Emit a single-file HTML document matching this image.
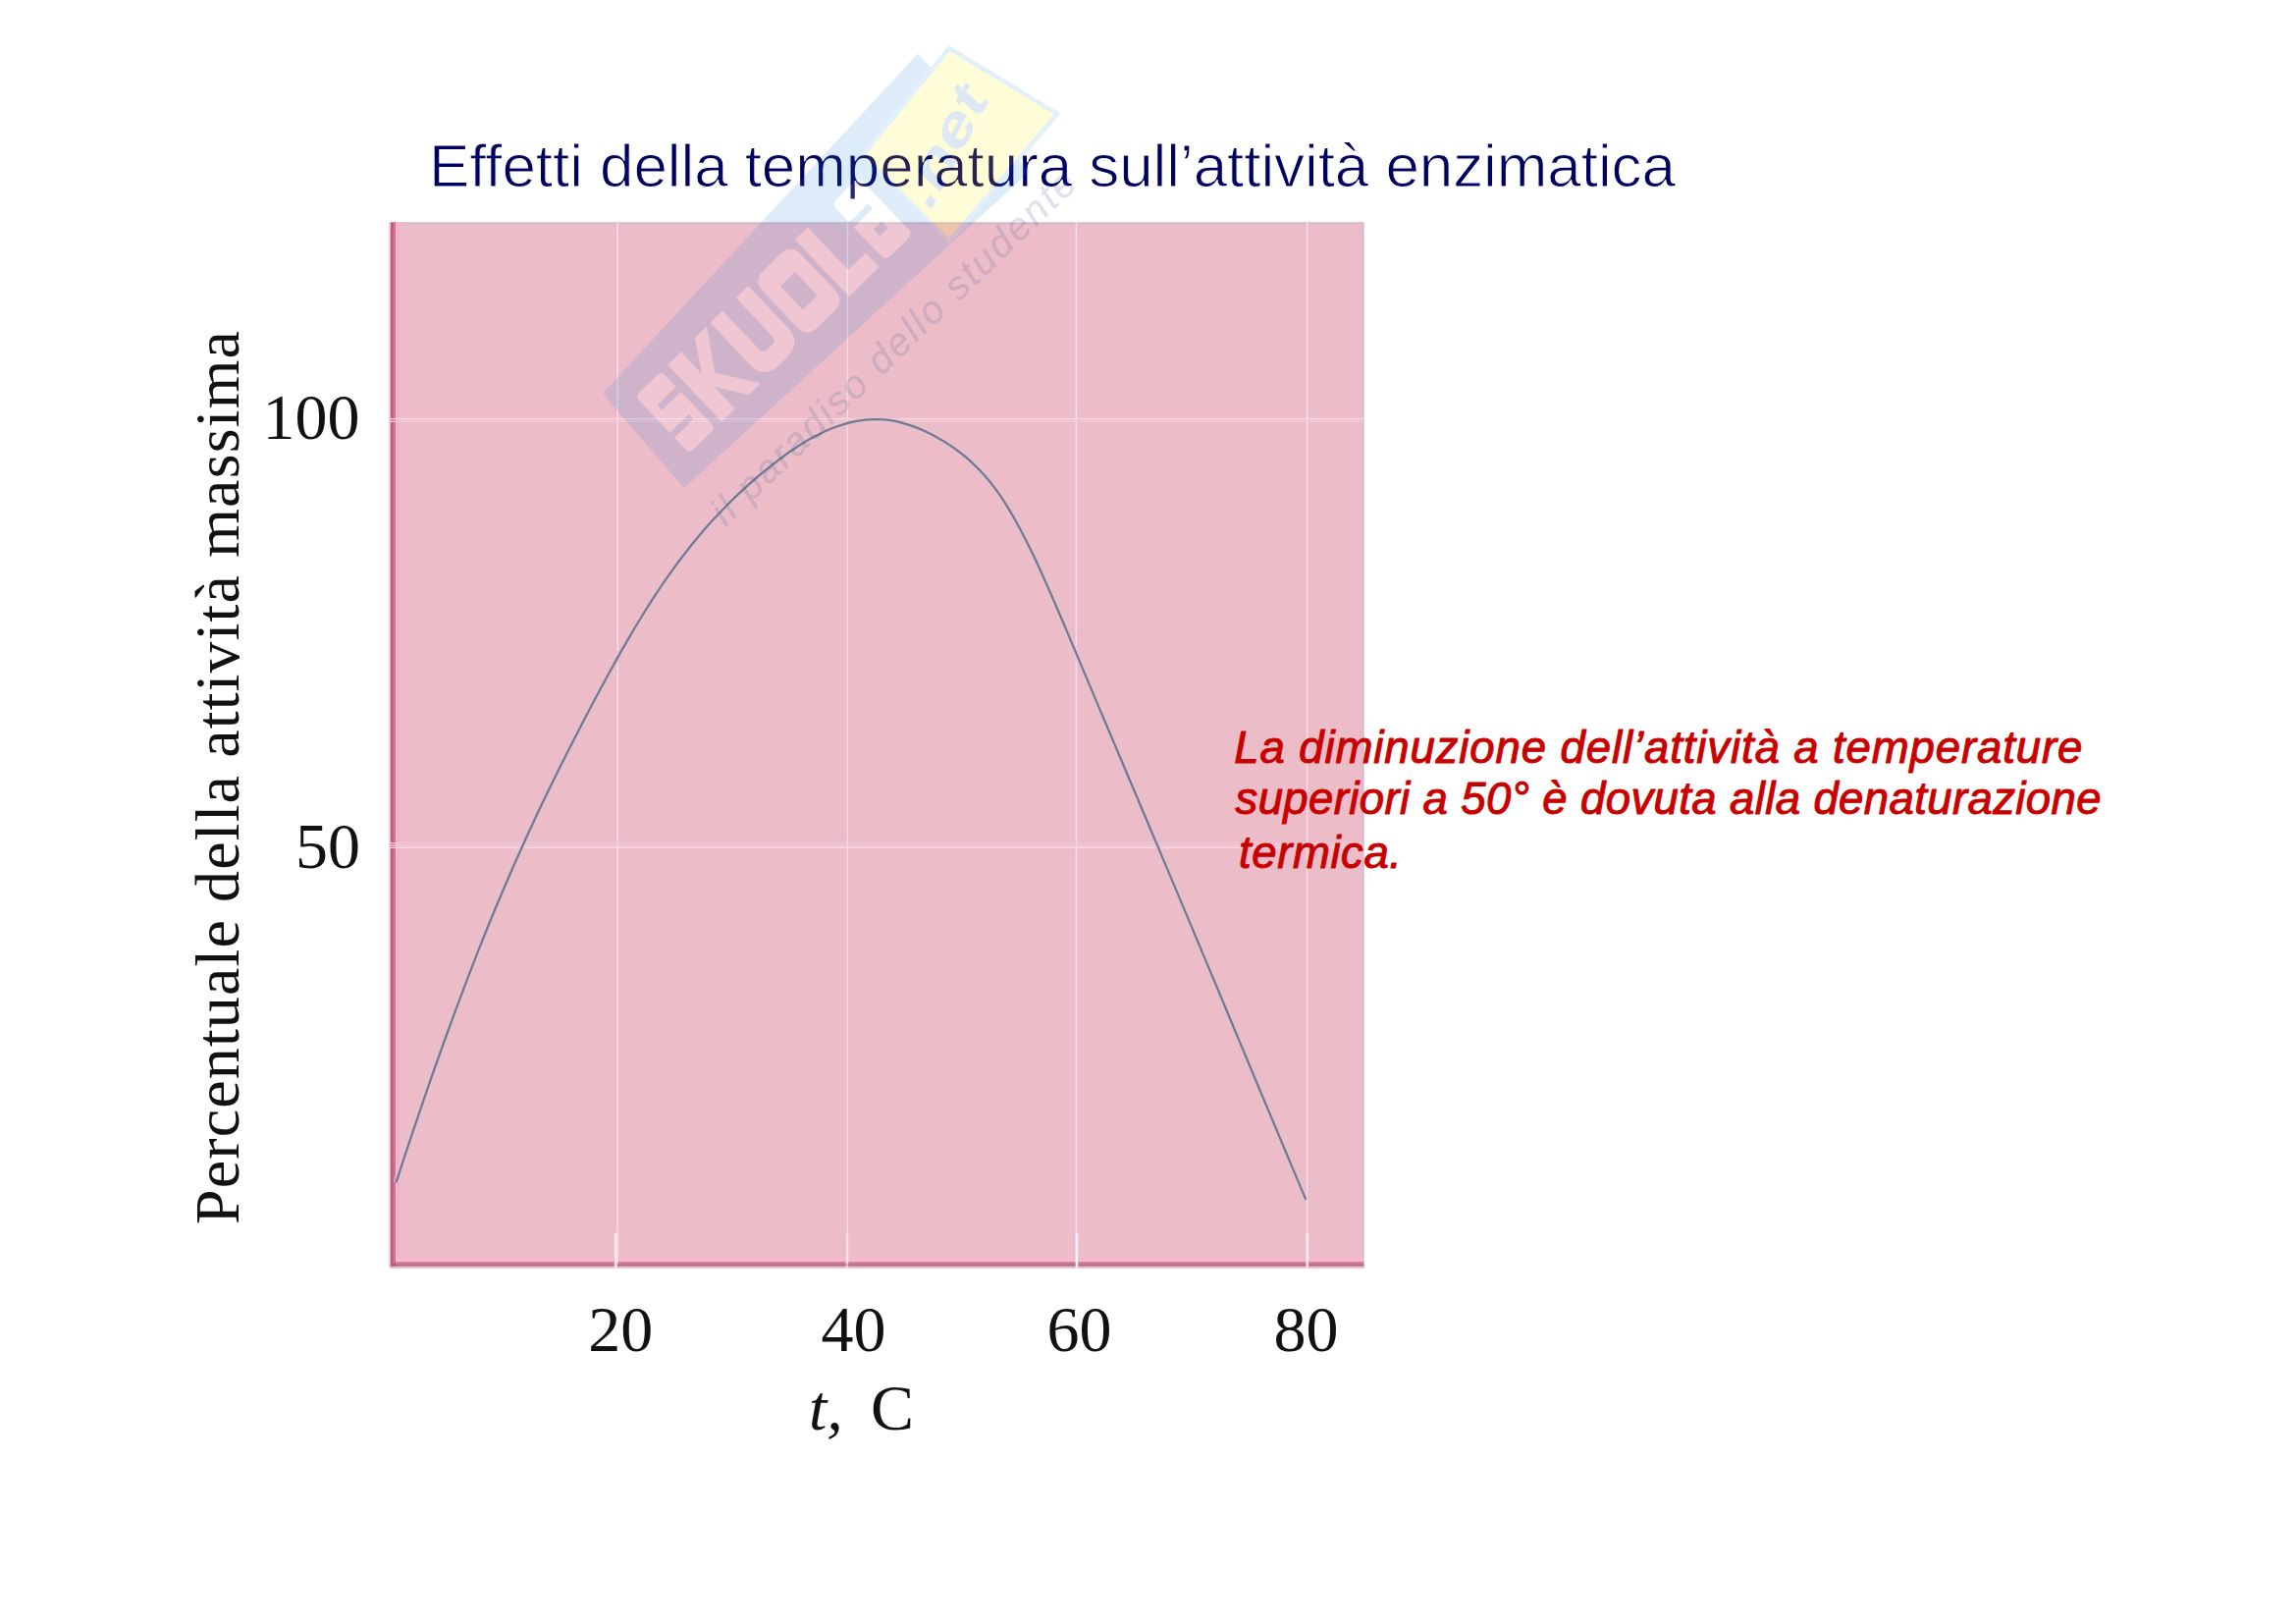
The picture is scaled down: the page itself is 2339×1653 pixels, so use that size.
<!DOCTYPE html>
<html><head><meta charset="utf-8"><title>Effetti della temperatura</title>
<style>
html,body{margin:0;padding:0;background:#fff;}
body{width:2339px;height:1653px;overflow:hidden;position:relative;}
svg{position:absolute;left:0;top:0;display:block;}
text{font-family:"Liberation Sans",sans-serif;}
.serif{font-family:"Liberation Serif",serif;}
</style></head><body>
<svg width="2339" height="1653" viewBox="0 0 2339 1653">

<rect x="397" y="226.5" width="992.5" height="1065" fill="#edbcc9"/>
<rect x="397" y="226.5" width="992.5" height="2.2" fill="#d6b8c8"/>
<rect x="397" y="228.7" width="992.5" height="2.2" fill="#e6bfce"/>
<rect x="1385.6" y="226.5" width="2" height="1059" fill="#e7bccd"/>
<rect x="1387.5" y="226.5" width="2" height="1059" fill="#dcbccc"/>
<rect x="397" y="1280.6" width="992.5" height="2.2" fill="#f7b9cf"/>
<rect x="397" y="1282.8" width="992.5" height="2.4" fill="#fdb4cd"/>
<rect x="397" y="1285.1" width="992.5" height="2.3" fill="#cc7d9b"/>
<rect x="397" y="1287.3" width="992.5" height="2.5" fill="#b26883"/>
<rect x="397" y="1289.7" width="992.5" height="2.1" fill="#e9bfce"/>
<rect x="395.8" y="226.5" width="2.1" height="1064" fill="#f8d2df"/>
<rect x="397.8" y="226.5" width="5.2" height="1063.3" fill="#b75f7f"/>
<rect x="400.8" y="226.5" width="1.4" height="1060" fill="#d87699"/>
<rect x="402.2" y="226.5" width="0.8" height="1060" fill="#c76a8b"/>
<rect x="402.9" y="226.5" width="1.6" height="1056" fill="#ffb8d3"/>
<rect x="404.4" y="226.5" width="2.3" height="1054.5" fill="#f1afc5"/>
<rect x="406.6" y="226.5" width="7" height="1054.5" fill="#e9bdcd"/>
<rect x="413.6" y="226.5" width="1.9" height="1054.5" fill="#f5b7cb"/>
<rect x="626.90" y="226.5" width="4.6" height="1058" fill="#e2bccc" opacity="0.75"/>
<rect x="628.35" y="226.5" width="1.7" height="1060" fill="#fdd8e3"/>
<rect x="861.10" y="226.5" width="4.6" height="1058" fill="#e2bccc" opacity="0.75"/>
<rect x="862.55" y="226.5" width="1.7" height="1060" fill="#fdd8e3"/>
<rect x="1094.10" y="226.5" width="4.6" height="1058" fill="#e2bccc" opacity="0.75"/>
<rect x="1095.55" y="226.5" width="1.7" height="1060" fill="#fdd8e3"/>
<rect x="1329.30" y="226.5" width="4.6" height="1058" fill="#e2bccc" opacity="0.75"/>
<rect x="1330.75" y="226.5" width="1.7" height="1060" fill="#fdd8e3"/>
<rect x="397.5" y="425.90" width="992" height="1.4" fill="#fdd8e3"/>
<rect x="397.5" y="428.60" width="992" height="1.4" fill="#f3c9d7"/>
<rect x="397.5" y="862.70" width="992" height="1.4" fill="#fdd8e3"/>
<rect x="397.5" y="860.40" width="992" height="1.4" fill="#f5cbd9"/>
<rect x="397.5" y="857.90" width="992" height="1.4" fill="#f2c5d4"/>
<rect x="625.70" y="1256" width="3.2" height="35" fill="#ffdce9" opacity="0.6"/>
<rect x="626.40" y="1255.5" width="1.8" height="36" fill="#fff4f8" opacity="1"/>
<rect x="861.30" y="1256" width="3.2" height="35" fill="#ffdce9" opacity="0.27"/>
<rect x="862.00" y="1255.5" width="1.8" height="36" fill="#fff4f8" opacity="0.45"/>
<rect x="1095.40" y="1256" width="3.2" height="35" fill="#ffdce9" opacity="0.6"/>
<rect x="1096.10" y="1255.5" width="1.8" height="36" fill="#fff4f8" opacity="1"/>
<rect x="1330.10" y="1256" width="3.2" height="35" fill="#ffdce9" opacity="0.54"/>
<rect x="1330.80" y="1255.5" width="1.8" height="36" fill="#fff4f8" opacity="0.9"/>
<path d="M403.5 1204.3 C405.5 1198.2 411.5 1179.8 415.5 1167.8 C419.5 1155.8 423.5 1143.8 427.5 1132.1 C431.5 1120.4 435.5 1108.8 439.5 1097.4 C443.5 1086.0 447.5 1074.6 451.5 1063.5 C455.5 1052.4 459.5 1041.4 463.5 1030.6 C467.5 1019.8 471.5 1009.2 475.5 998.7 C479.5 988.2 483.5 977.9 487.5 967.7 C491.5 957.6 495.5 947.6 499.5 937.8 C503.5 928.0 507.5 918.4 511.5 909.0 C515.5 899.6 519.5 890.3 523.5 881.2 C527.5 872.1 531.5 863.3 535.5 854.5 C539.5 845.7 543.5 837.1 547.5 828.6 C551.5 820.1 555.5 811.7 559.5 803.5 C563.5 795.3 567.5 787.2 571.5 779.2 C575.5 771.2 579.5 763.3 583.5 755.5 C587.5 747.7 591.5 740.0 595.5 732.3 C599.5 724.6 603.5 717.0 607.5 709.5 C611.5 702.0 615.5 694.5 619.5 687.2 C623.5 679.9 627.5 672.7 631.5 665.6 C635.5 658.5 639.5 651.6 643.5 644.8 C647.5 638.0 651.5 631.5 655.5 625.0 C659.5 618.5 663.5 612.2 667.5 606.1 C671.5 600.0 675.5 594.1 679.5 588.4 C683.5 582.7 687.5 577.1 691.5 571.7 C695.5 566.3 699.5 561.2 703.5 556.2 C707.5 551.2 711.5 546.4 715.5 541.7 C719.5 537.1 723.5 532.6 727.5 528.3 C731.5 524.0 735.5 519.8 739.5 515.7 C743.5 511.6 747.5 507.7 751.5 503.9 C755.5 500.1 759.5 496.5 763.5 492.9 C767.5 489.3 771.5 485.9 775.5 482.5 C779.5 479.1 783.5 475.9 787.5 472.8 C791.5 469.7 795.5 466.6 799.5 463.7 C803.5 460.8 807.5 458.1 811.5 455.5 C815.5 452.9 819.5 450.4 823.5 448.1 C827.5 445.8 831.5 443.7 835.5 441.7 C839.5 439.7 843.5 437.9 847.5 436.3 C851.5 434.7 855.5 433.3 859.5 432.1 C863.5 430.9 867.5 429.9 871.5 429.1 C875.5 428.3 879.5 427.7 883.5 427.4 C887.5 427.1 891.5 427.0 895.5 427.1 C899.5 427.2 903.5 427.6 907.5 428.2 C911.5 428.8 915.5 429.7 919.5 430.8 C923.5 431.9 927.5 433.2 931.5 434.7 C935.5 436.2 939.5 437.9 943.5 439.8 C947.5 441.7 951.5 443.8 955.5 446.1 C959.5 448.4 963.5 450.8 967.5 453.4 C971.5 456.0 975.5 458.9 979.5 462.0 C983.5 465.1 987.5 468.5 991.5 472.3 C995.5 476.1 999.5 480.1 1003.5 484.7 C1007.5 489.3 1011.5 494.2 1015.5 499.8 C1019.5 505.4 1023.5 511.5 1027.5 518.1 C1031.5 524.7 1035.5 531.8 1039.5 539.3 C1043.5 546.8 1047.5 554.8 1051.5 563.1 C1055.5 571.4 1059.5 580.0 1063.5 588.9 C1067.5 597.8 1071.5 607.0 1075.5 616.2 C1079.5 625.5 1083.5 635.0 1087.5 644.4 C1091.5 653.8 1095.5 663.4 1099.5 672.9 C1103.5 682.4 1107.5 691.9 1111.5 701.4 C1115.5 710.9 1119.5 720.3 1123.5 729.8 C1127.5 739.2 1131.5 748.6 1135.5 758.1 C1139.5 767.6 1143.5 777.0 1147.5 786.5 C1151.5 796.0 1155.5 805.3 1159.5 814.8 C1163.5 824.2 1167.5 833.7 1171.5 843.2 C1175.5 852.7 1179.5 862.1 1183.5 871.6 C1187.5 881.1 1191.5 890.6 1195.5 900.1 C1199.5 909.6 1203.5 919.1 1207.5 928.6 C1211.5 938.1 1215.5 947.7 1219.5 957.2 C1223.5 966.8 1227.5 976.4 1231.5 985.9 C1235.5 995.4 1239.5 1004.9 1243.5 1014.5 C1247.5 1024.1 1251.5 1033.7 1255.5 1043.3 C1259.5 1052.9 1263.5 1062.4 1267.5 1072.0 C1271.5 1081.6 1275.5 1091.1 1279.5 1100.7 C1283.5 1110.3 1287.5 1119.9 1291.5 1129.4 C1295.5 1139.0 1299.5 1148.5 1303.5 1158.0 C1307.5 1167.5 1311.5 1177.1 1315.5 1186.6 C1319.5 1196.1 1325.0 1209.2 1327.5 1215.1 C1330.0 1221.0 1329.8 1220.7 1330.3 1221.8" fill="none" stroke="#dcc4d4" stroke-width="6.5" stroke-linecap="butt" opacity="0.6"/>
<path d="M403.5 1204.3 C405.5 1198.2 411.5 1179.8 415.5 1167.8 C419.5 1155.8 423.5 1143.8 427.5 1132.1 C431.5 1120.4 435.5 1108.8 439.5 1097.4 C443.5 1086.0 447.5 1074.6 451.5 1063.5 C455.5 1052.4 459.5 1041.4 463.5 1030.6 C467.5 1019.8 471.5 1009.2 475.5 998.7 C479.5 988.2 483.5 977.9 487.5 967.7 C491.5 957.6 495.5 947.6 499.5 937.8 C503.5 928.0 507.5 918.4 511.5 909.0 C515.5 899.6 519.5 890.3 523.5 881.2 C527.5 872.1 531.5 863.3 535.5 854.5 C539.5 845.7 543.5 837.1 547.5 828.6 C551.5 820.1 555.5 811.7 559.5 803.5 C563.5 795.3 567.5 787.2 571.5 779.2 C575.5 771.2 579.5 763.3 583.5 755.5 C587.5 747.7 591.5 740.0 595.5 732.3 C599.5 724.6 603.5 717.0 607.5 709.5 C611.5 702.0 615.5 694.5 619.5 687.2 C623.5 679.9 627.5 672.7 631.5 665.6 C635.5 658.5 639.5 651.6 643.5 644.8 C647.5 638.0 651.5 631.5 655.5 625.0 C659.5 618.5 663.5 612.2 667.5 606.1 C671.5 600.0 675.5 594.1 679.5 588.4 C683.5 582.7 687.5 577.1 691.5 571.7 C695.5 566.3 699.5 561.2 703.5 556.2 C707.5 551.2 711.5 546.4 715.5 541.7 C719.5 537.1 723.5 532.6 727.5 528.3 C731.5 524.0 735.5 519.8 739.5 515.7 C743.5 511.6 747.5 507.7 751.5 503.9 C755.5 500.1 759.5 496.5 763.5 492.9 C767.5 489.3 771.5 485.9 775.5 482.5 C779.5 479.1 783.5 475.9 787.5 472.8 C791.5 469.7 795.5 466.6 799.5 463.7 C803.5 460.8 807.5 458.1 811.5 455.5 C815.5 452.9 819.5 450.4 823.5 448.1 C827.5 445.8 831.5 443.7 835.5 441.7 C839.5 439.7 843.5 437.9 847.5 436.3 C851.5 434.7 855.5 433.3 859.5 432.1 C863.5 430.9 867.5 429.9 871.5 429.1 C875.5 428.3 879.5 427.7 883.5 427.4 C887.5 427.1 891.5 427.0 895.5 427.1 C899.5 427.2 903.5 427.6 907.5 428.2 C911.5 428.8 915.5 429.7 919.5 430.8 C923.5 431.9 927.5 433.2 931.5 434.7 C935.5 436.2 939.5 437.9 943.5 439.8 C947.5 441.7 951.5 443.8 955.5 446.1 C959.5 448.4 963.5 450.8 967.5 453.4 C971.5 456.0 975.5 458.9 979.5 462.0 C983.5 465.1 987.5 468.5 991.5 472.3 C995.5 476.1 999.5 480.1 1003.5 484.7 C1007.5 489.3 1011.5 494.2 1015.5 499.8 C1019.5 505.4 1023.5 511.5 1027.5 518.1 C1031.5 524.7 1035.5 531.8 1039.5 539.3 C1043.5 546.8 1047.5 554.8 1051.5 563.1 C1055.5 571.4 1059.5 580.0 1063.5 588.9 C1067.5 597.8 1071.5 607.0 1075.5 616.2 C1079.5 625.5 1083.5 635.0 1087.5 644.4 C1091.5 653.8 1095.5 663.4 1099.5 672.9 C1103.5 682.4 1107.5 691.9 1111.5 701.4 C1115.5 710.9 1119.5 720.3 1123.5 729.8 C1127.5 739.2 1131.5 748.6 1135.5 758.1 C1139.5 767.6 1143.5 777.0 1147.5 786.5 C1151.5 796.0 1155.5 805.3 1159.5 814.8 C1163.5 824.2 1167.5 833.7 1171.5 843.2 C1175.5 852.7 1179.5 862.1 1183.5 871.6 C1187.5 881.1 1191.5 890.6 1195.5 900.1 C1199.5 909.6 1203.5 919.1 1207.5 928.6 C1211.5 938.1 1215.5 947.7 1219.5 957.2 C1223.5 966.8 1227.5 976.4 1231.5 985.9 C1235.5 995.4 1239.5 1004.9 1243.5 1014.5 C1247.5 1024.1 1251.5 1033.7 1255.5 1043.3 C1259.5 1052.9 1263.5 1062.4 1267.5 1072.0 C1271.5 1081.6 1275.5 1091.1 1279.5 1100.7 C1283.5 1110.3 1287.5 1119.9 1291.5 1129.4 C1295.5 1139.0 1299.5 1148.5 1303.5 1158.0 C1307.5 1167.5 1311.5 1177.1 1315.5 1186.6 C1319.5 1196.1 1325.0 1209.2 1327.5 1215.1 C1330.0 1221.0 1329.8 1220.7 1330.3 1221.8" fill="none" stroke="#7b7690" stroke-width="2.3" stroke-linecap="butt"/>
<g class="serif" fill="#111">
<text class="serif" font-size="66" x="366.5" y="447" text-anchor="end">100</text>
<text class="serif" font-size="66" x="367" y="883.5" text-anchor="end">50</text>
<text class="serif" font-size="66" x="632.2" y="1376" text-anchor="middle">20</text>
<text class="serif" font-size="66" x="869.6" y="1376" text-anchor="middle">40</text>
<text class="serif" font-size="66" x="1099.6" y="1376" text-anchor="middle">60</text>
<text class="serif" font-size="66" x="1330.5" y="1376" text-anchor="middle">80</text>
<text class="serif" font-size="66" x="824" y="1455.5" font-style="italic">t,</text>
<text class="serif" font-size="66" x="887" y="1455.5">C</text>
<text class="serif" font-size="64" transform="translate(243.2,1247) rotate(-90)" textLength="910" lengthAdjust="spacing">Percentuale della attività massima</text>
</g>
<text x="437" y="189.5" font-size="62" fill="#00005e" stroke="#ffffff" stroke-width="1.1" textLength="1270" lengthAdjust="spacing">Effetti della temperatura sull’attività enzimatica</text>
<g font-size="45.5" font-style="italic" fill="#c90000" stroke="#c90000" stroke-width="1.0" stroke-linejoin="round">
<text x="1257.3" y="777" textLength="864" lengthAdjust="spacing">La diminuzione dell’attività a temperature</text>
<text x="1258.5" y="828.8" textLength="882" lengthAdjust="spacing">superiori a 50° è dovuta alla denaturazione</text>
<text x="1262" y="883.7" textLength="166" lengthAdjust="spacing">termica.</text>
</g>
<g opacity="0.15">
<g transform="matrix(0.7133 -0.7009 0.6884 0.7254 648 403.1)">
<path d="M-20 -25.8L448 -47.5L448 118L-26.5 101.4Q-29 101.3 -29 98.5L-23.2 -23Q-23 -25.7 -20 -25.8Z" fill="#2486d2"/>
<path d="M4 0H31Q36 0 36 5V75Q36 80 31 80H4Q-1 80 -1 75V5Q-1 0 4 0ZM9 22H36V29H9ZM-1 51H26V58H-1ZM45 0H64V31L84 0H101L74.5 39.5L101 80H84L64 49V80H45ZM106 0H123.5V54Q123.5 60 129.5 60H136.5Q142.5 60 142.5 54V0H160V58Q160 80 138 80H128Q106 80 106 58ZM182 0H206Q221 0 221 15V65Q221 80 206 80H182Q167 80 167 65V15Q167 0 182 0ZM183.5 23.5H204.5V56.5H183.5ZM227 0H245V60H270V80H227ZM286 0H311Q318 0 318 7V73Q318 80 311 80H286Q279 80 279 73V7Q279 0 286 0ZM279 26H306V33H279ZM292 48.5H304V58H292Z" fill="#ffffff" fill-rule="evenodd"/>
</g>
<path d="M967 49L1077 116L967 246L879 158Z" fill="#fff200" stroke="#4aa3e0" stroke-width="4.5" stroke-linejoin="round"/>
<text transform="translate(948,214.5) rotate(-62)" font-size="56" font-weight="bold" font-style="italic" fill="#1c72bd" textLength="130" lengthAdjust="spacingAndGlyphs">.net</text>
</g>
<text transform="translate(739,537) rotate(-44)" font-size="40" font-style="italic" fill="#3b5a86" opacity="0.17" textLength="500" lengthAdjust="spacing">il paradiso dello studente</text>
</svg></body></html>
